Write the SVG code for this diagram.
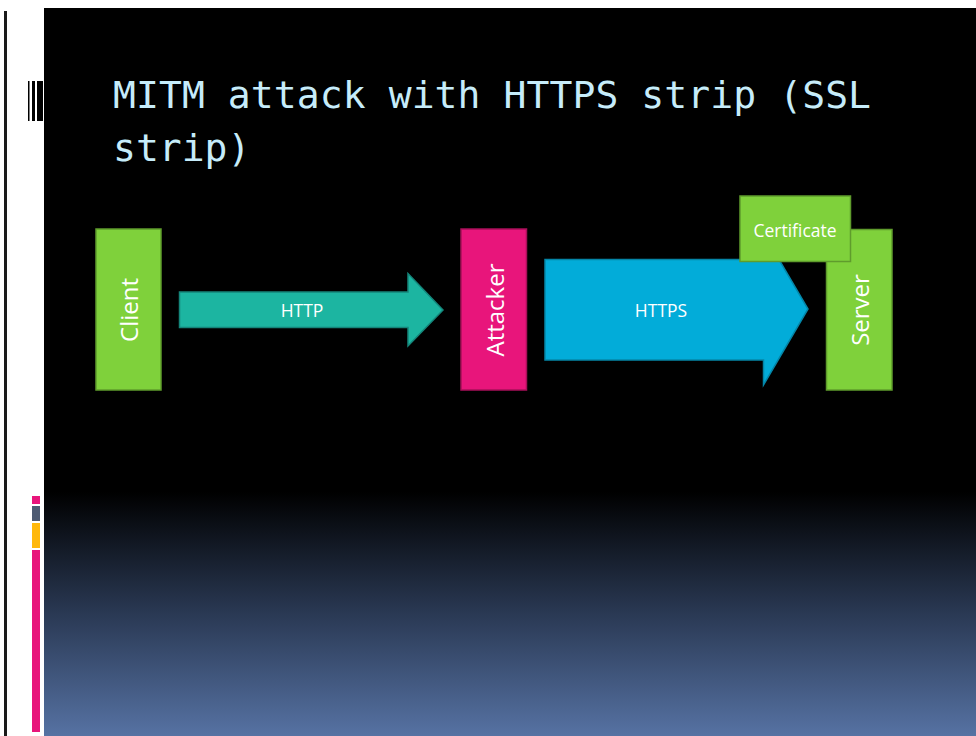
<svg xmlns="http://www.w3.org/2000/svg" width="976" height="736" viewBox="0 0 976 736">
  <defs>
    <linearGradient id="floor" x1="0" y1="0" x2="0" y2="1">
      <stop offset="0" stop-color="#000000"/>
      <stop offset="0.5" stop-color="#2a3954"/>
      <stop offset="1" stop-color="#5672a3"/>
    </linearGradient>
    <style>
      .box-green { fill: #7fd13b; stroke: #5f9c2c; stroke-width: 1.5; }
      .box-pink { fill: #e8157b; stroke: #a80f59; stroke-width: 1.5; }
      .label { fill: #ffffff; font-family: "Open Sans", "Liberation Sans", sans-serif; text-anchor: middle; dominant-baseline: central; }
      .big { font-size: 24px; }
      .small { font-size: 17.5px; }
      .title { fill: #c6ecfa; font-family: "DejaVu Sans Mono", "Liberation Mono", monospace; font-size: 38px; }
    </style>
  </defs>

  <!-- page frame -->
  <rect x="0" y="0" width="976" height="736" fill="#ffffff"/>
  <rect x="4" y="11" width="3" height="725" fill="#1a1a1a"/>
  <rect x="44" y="8" width="932" height="728" fill="#000000"/>
  <rect x="44" y="492" width="932" height="244" fill="url(#floor)"/>

  <!-- title accent bars -->
  <g fill="#000000">
    <rect x="28" y="81" width="1.5" height="40"/>
    <rect x="32" y="81" width="3" height="40"/>
    <rect x="37" y="81" width="6" height="40"/>
  </g>

  <!-- side colour strip -->
  <rect x="32" y="496" width="8" height="8" fill="#e8157b"/>
  <rect x="32" y="506" width="8" height="15" fill="#4e5b73"/>
  <rect x="32" y="523" width="8" height="25" fill="#ffb80b"/>
  <rect x="32" y="550" width="8" height="182" fill="#e8157b"/>

  <!-- title -->
  <text class="title" x="113" y="108" textLength="758" lengthAdjust="spacing">MITM attack with HTTPS strip (SSL</text>
  <text class="title" x="113" y="161">strip)</text>

  <!-- connectors -->
  <g id="connectors">
    <g id="http-arrow">
      <polygon points="179.5,292 408,292 408,273.5 443,310 408,346 408,327.5 179.5,327.5" fill="#1cb5a1" stroke="#14857a" stroke-width="1.5"/>
      <text class="label small" x="302" y="310">HTTP</text>
    </g>
    <g id="https-arrow">
      <polygon points="545,259.5 779,259.5 808,309 763.5,385 763.5,360 545,360" fill="#02acd9" stroke="#0486a8" stroke-width="1.5"/>
      <text class="label small" x="661" y="310">HTTPS</text>
    </g>
  </g>

  <!-- nodes -->
  <g id="client">
    <rect class="box-green" x="96" y="229" width="65" height="161"/>
    <text class="label big" transform="translate(128.5,310) rotate(-90)">Client</text>
  </g>
  <g id="attacker">
    <rect class="box-pink" x="461" y="229" width="65.5" height="161"/>
    <text class="label big" transform="translate(494,310) rotate(-90)">Attacker</text>
  </g>
  <g id="server">
    <rect class="box-green" x="826.5" y="229.5" width="65.5" height="160.5"/>
    <text class="label big" transform="translate(859.5,310) rotate(-90)">Server</text>
  </g>
  <g id="certificate">
    <rect class="box-green" x="740" y="196" width="110.5" height="65.5"/>
    <text class="label small" x="795" y="229.5">Certificate</text>
  </g>
</svg>
